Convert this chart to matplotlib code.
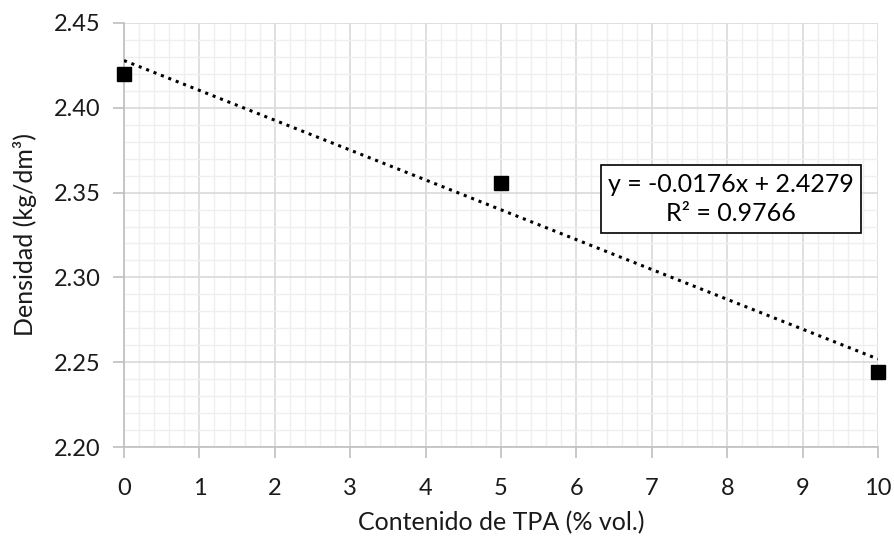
import numpy as np
import matplotlib
matplotlib.use("Agg")
import matplotlib.pyplot as plt
from matplotlib.ticker import MultipleLocator, FormatStrFormatter

plt.rcParams['font.family'] = ['Lato', 'DejaVu Sans']

tpa = [0, 5, 10]
densidad = [2.4200, 2.3556, 2.2440]

# linear trend line (Excel style)
slope, intercept = np.polyfit(tpa, densidad, 1)
pred = np.polyval([slope, intercept], tpa)
dens = np.array(densidad)
r2 = 1 - np.sum((dens - pred) ** 2) / np.sum((dens - dens.mean()) ** 2)

fig = plt.figure(figsize=(8.95, 5.38), dpi=100)
ax = fig.add_axes([124 / 895, 1 - 447 / 538, (878 - 124) / 895, (447 - 23) / 538])

ax.set_xlim(0, 10)
ax.set_ylim(2.20, 2.45)
ax.xaxis.set_major_locator(MultipleLocator(1))
ax.xaxis.set_minor_locator(MultipleLocator(0.2))
ax.yaxis.set_major_locator(MultipleLocator(0.05))
ax.yaxis.set_minor_locator(MultipleLocator(0.01))
ax.yaxis.set_major_formatter(FormatStrFormatter('%.2f'))

ax.grid(which='minor', color='#efefef', linewidth=1.0)
ax.grid(which='major', color='#d9d9d9', linewidth=1.2)
ax.set_axisbelow(True)

for s in ['top', 'right']:
    ax.spines[s].set_visible(False)
for s in ['left', 'bottom']:
    ax.spines[s].set_color('#bfbfbf')
    ax.spines[s].set_linewidth(1.2)

ax.tick_params(which='major', length=8, width=1.2, color='#bfbfbf',
               labelsize=17, labelcolor='#1a1a1a')
ax.tick_params(axis='x', which='major', pad=14)
ax.tick_params(axis='y', which='major', pad=9)
ax.tick_params(which='minor', length=0)

xs = np.array([0, 10])
ax.plot(xs, np.polyval([slope, intercept], xs), color='black',
        linestyle=(0, (1, 1.6)), linewidth=2.2, zorder=3)
ax.plot(tpa, densidad, linestyle='none', marker='s', markersize=9.5,
        color='black', clip_on=False, zorder=4)

ax.text(8.05, 2.3462,
        'y = %.4fx + %.4f\nR² = %.4f' % (slope, intercept, r2),
        fontsize=18, ha='center', va='center', linespacing=1.35,
        bbox=dict(boxstyle='square,pad=0.3', facecolor='white',
                  edgecolor='black', linewidth=1.2), zorder=5)

ax.set_xlabel('Contenido de TPA (% vol.)', fontsize=18, color='#1a1a1a', labelpad=9)
ax.set_ylabel('Densidad (kg/dm³)', fontsize=18, color='#1a1a1a', labelpad=12)

fig.savefig('out.png', dpi=100)
